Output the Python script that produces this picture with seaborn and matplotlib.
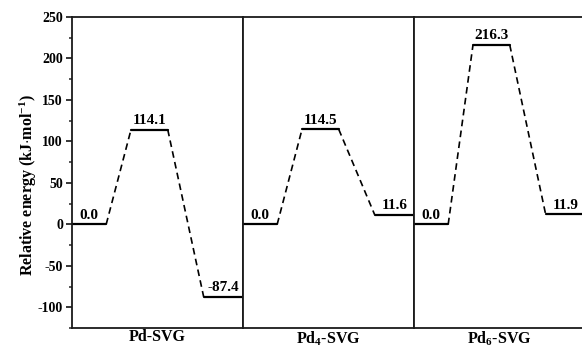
import matplotlib
matplotlib.use("Agg")
import matplotlib.pyplot as plt
import seaborn as sns
import pandas as pd

# Energies (kJ/mol) for each catalyst: initial state, transition state, final state
systems = ["Pd-SVG", "Pd$_\\mathbf{4}$-SVG", "Pd$_\\mathbf{6}$-SVG"]
initial = [0.0, 0.0, 0.0]
transition = [114.1, 114.5, 216.3]
final = [-87.4, 11.6, 11.9]

# horizontal extent of each level inside a panel (panel spans 0..1)
spans = {"IS": (0.0, 0.2), "TS": (0.345, 0.56), "FS": (0.77, 1.0)}

sns.set_theme(style="white")
plt.rcParams["font.family"] = ["Liberation Serif", "DejaVu Serif"]
plt.rcParams["font.weight"] = "bold"
plt.rcParams["text.color"] = "black"
plt.rcParams["axes.labelcolor"] = "black"
plt.rcParams["axes.unicode_minus"] = False
plt.rcParams["mathtext.fontset"] = "custom"
plt.rcParams["mathtext.rm"] = "Liberation Serif:bold"
plt.rcParams["mathtext.bf"] = "Liberation Serif:bold"
plt.rcParams["mathtext.it"] = "Liberation Serif:bold:italic"

W, H = 582, 348
fig = plt.figure(figsize=(W / 100, H / 100), dpi=100)
x0, x1 = 72, 585
top, bottom = 17, 328
pw = (x1 - x0) / 3

axes = []
for i in range(3):
    ax = fig.add_axes([(x0 + i * pw) / W, (H - bottom) / H, pw / W, (bottom - top) / H],
                      sharey=axes[0] if axes else None)
    axes.append(ax)

for i, ax in enumerate(axes):
    levels = {"IS": initial[i], "TS": transition[i], "FS": final[i]}
    rows = []
    for k, (a, b) in spans.items():
        rows += [dict(x=a, e=levels[k], seg=f"L{k}", kind="level"),
                 dict(x=b, e=levels[k], seg=f"L{k}", kind="level")]
    order = ["IS", "TS", "FS"]
    for j in range(2):
        p, q = order[j], order[j + 1]
        rows += [dict(x=spans[p][1], e=levels[p], seg=f"C{j}", kind="link"),
                 dict(x=spans[q][0], e=levels[q], seg=f"C{j}", kind="link")]
    df = pd.DataFrame(rows)
    sns.lineplot(data=df[df.kind == "level"], x="x", y="e", units="seg", estimator=None,
                 sort=False, color="black", lw=1.6, ax=ax, legend=False)
    sns.lineplot(data=df[df.kind == "link"], x="x", y="e", units="seg", estimator=None,
                 sort=False, color="black", lw=1.2, ax=ax, legend=False, dashes=False)
    for line in ax.lines[3:]:
        line.set_dashes((4, 2.6))

    for k, (a, b) in spans.items():
        ax.text((a + b) / 2, levels[k] + 3, f"{levels[k]:.1f}", ha="center", va="bottom",
                fontsize=11, fontweight="bold", color="black")

    ax.set_xlim(0, 1)
    ax.set_ylim(-125, 250)
    ax.set_xticks([])
    ax.set_xlabel(systems[i], fontsize=11.5, fontweight="bold", labelpad=1, color="black")
    ax.set_ylabel("")
    for s in ax.spines.values():
        s.set_color("#1a1a1a")
        s.set_linewidth(1.3)
    if i > 0:
        ax.tick_params(axis="y", left=False, labelleft=False)

ax0 = axes[0]
ax0.set_yticks(range(-100, 251, 50))
ax0.set_yticks(range(-125, 251, 25), minor=True)
ax0.tick_params(axis="y", which="major", direction="out", length=4.5, width=1.1, left=True,
                labelsize=10, pad=2, colors="black")
ax0.tick_params(axis="y", which="minor", direction="out", length=2.5, width=1.1, left=True)
for t in ax0.get_yticklabels():
    t.set_fontweight("bold")
ax0.set_ylabel("Relative energy (kJ$\\cdot$mol$^{\\mathbf{-1}}$)", fontsize=11.5,
               fontweight="bold", color="black")
ax0.yaxis.set_label_coords(-0.195, 0.46)

fig.savefig("out.png", dpi=100)
